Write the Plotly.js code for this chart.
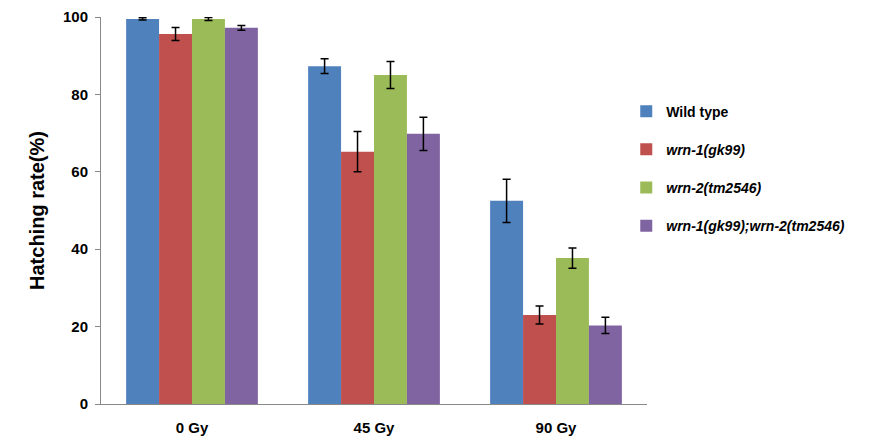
<!DOCTYPE html>
<html>
<head>
<meta charset="utf-8">
<script src="https://cdn.plot.ly/plotly-3.0.1.min.js"></script>
<style>html,body{margin:0;padding:0;background:#fff;}#chart{width:877px;height:446px;}</style>
</head>
<body>
<div id="chart"></div>
<script>
const categories = ["0 Gy", "45 Gy", "90 Gy"];
const seriesNames = ["<b>Wild type</b>", "<b><i>wrn-1(gk99)</i></b>", "<b><i>wrn-2(tm2546)</i></b>", "<b><i>wrn-1(gk99);wrn-2(tm2546)</i></b>"];
const wildType = [99.5, 87.3, 52.5];
const wildTypeErr = [0.3, 1.9, 5.6];
const wrn1 = [95.6, 65.2, 23.0];
const wrn1Err = [1.7, 5.2, 2.3];
const wrn2 = [99.5, 85.0, 37.7];
const wrn2Err = [0.4, 3.5, 2.6];
const wrn12 = [97.2, 69.8, 20.3];
const wrn12Err = [0.6, 4.3, 2.1];
const yTicks = [0, 20, 40, 60, 80, 100];

const colors = ["#4F81BD", "#C0504D", "#9BBB59", "#8064A2"];
const values = [wildType, wrn1, wrn2, wrn12];
const errs = [wildTypeErr, wrn1Err, wrn2Err, wrn12Err];

const traces = values.map((v, i) => ({
  type: "bar",
  x: categories,
  y: v,
  name: seriesNames[i],
  legendgroup: "g" + i,
  marker: {color: colors[i], line: {width: 0}},
  error_y: {type: "data", array: errs[i], visible: true, color: "#000", thickness: 1.5, width: 4}
}));

const layout = {
  width: 877, height: 446,
  margin: {l: 101, r: 230, t: 17, b: 42},
  paper_bgcolor: "#fff", plot_bgcolor: "#fff",
  font: {family: "Arial, 'Liberation Sans', sans-serif", color: "#000"},
  barmode: "group",
  bargap: 0.276,
  bargroupgap: 0,
  showlegend: true,
  legend: {x: 0.962, xanchor: "left", y: 0.797, yanchor: "top", font: {size: 14, color: "#000"}, tracegroupgap: 17, itemwidth: 30, bgcolor: "rgba(0,0,0,0)"},
  xaxis: {
    type: "category",
    range: [-0.5, 2.5],
    showline: true, linecolor: "#888", linewidth: 1,
    ticks: "", showgrid: false, zeroline: false,
    tickfont: {size: 15, color: "#000", weight: "bold"},
    ticklabelstandoff: 10
  },
  yaxis: {
    range: [0, 100],
    tickvals: yTicks,
    ticktext: yTicks.map(String),
    showline: true, linecolor: "#888", linewidth: 1,
    ticks: "outside", ticklen: 5, tickcolor: "#888",
    showgrid: false, zeroline: false,
    tickfont: {size: 15, color: "#000", weight: "bold"},
    ticklabelstandoff: 4,
    title: {text: "<b>Hatching rate(%)</b>", font: {size: 20, color: "#000"}, standoff: 12}
  }
};

Plotly.newPlot("chart", traces, layout, {displayModeBar: false, staticPlot: true});
</script>
</body>
</html>
